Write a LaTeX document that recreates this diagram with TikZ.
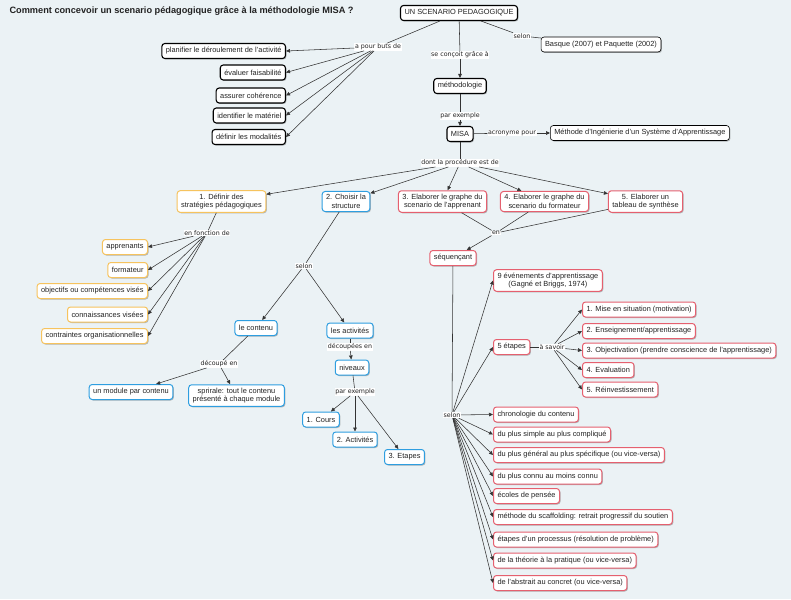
\documentclass[tikz,border=0pt]{standalone}
\usepackage{fontspec}
\setmainfont{Liberation Sans}
\newfontfamily\lblfont{DejaVu Sans}
\usetikzlibrary{arrows.meta,shadows}
\definecolor{bg}{HTML}{EBF2F5}
\definecolor{cOr}{HTML}{F6C35E}
\definecolor{cBl}{HTML}{2E9EE0}
\definecolor{cRd}{HTML}{E5606F}
\definecolor{ink}{HTML}{222222}
\definecolor{lncol}{HTML}{333333}
\begin{document}
\begin{tikzpicture}[x=1pt,y=1pt,
 box/.style={draw, rounded corners=3pt, fill=white, font=\fontsize{7.4}{8.6}\selectfont, text=ink, inner xsep=4pt, inner ysep=3pt, minimum height=15pt, align=center, drop shadow={shadow xshift=1pt,shadow yshift=-1pt,opacity=0.25,fill=black}},
 bk/.style={box, draw=black, line width=1.1pt},
 bt/.style={box, draw=black, line width=0.6pt},
 cor/.style={box, draw=cOr, line width=1pt},
 cbl/.style={box, draw=cBl, line width=1pt},
 crd/.style={box, draw=cRd, line width=1pt},
 lbl/.style={fill=white, inner sep=0.6pt, font=\lblfont\fontsize{6.3}{7}\selectfont, text=ink},
 lnk/.style={draw=lncol, line width=0.55pt},
 arw/.style={lnk, -{Triangle[length=4pt,width=3.6pt]}},
]
\fill[bg] (0,0) rectangle (791,-599);
\useasboundingbox (0,0) rectangle (791,-599);

\node[anchor=west, font=\bfseries\fontsize{9.2}{11}\selectfont, text=ink] (title) at (6,-11) {Comment concevoir un scenario pédagogique grâce à la méthodologie MISA ?};

% top
\node[bk] (usp) at (459,-13) {UN SCENARIO PEDAGOGIQUE};
\node[lbl] (pour) at (378,-47) {a pour buts de};
\node[bk, anchor=east] (g1) at (286,-51) {planifier le déroulement de l'activité};
\node[bk, anchor=east] (g2) at (286,-72.5) {évaluer faisabilité};
\node[bk, anchor=east] (g3) at (286,-95.5) {assurer cohérence};
\node[bk, anchor=east] (g4) at (286,-115.5) {identifier le matériel};
\node[bk, anchor=east] (g5) at (286,-137) {définir les modalités};
\node[lbl] (selonA) at (522,-36) {selon};
\node[bt] (basque) at (601,-44.5) {Basque (2007) et Paquette (2002)};
\node[lbl] (concoit) at (460,-55) {se conçoit grâce à};
\node[bk] (meth) at (460,-86) {méthodologie};
\node[lbl] (parexA) at (460,-116) {par exemple};
\node[bk] (misa) at (460,-134) {MISA};
\node[lbl] (acro) at (512,-133) {acronyme pour};
\node[bt, anchor=west] (methode) at (550,-133) {Méthode d'Ingénierie d'un Système d'Apprentissage};
\node[lbl] (dont) at (460,-163) {dont la procédure est de};

% steps
\node[cor] (s1) at (221.5,-201.5) {1. Définir des\\stratégies pédagogiques};
\node[cbl] (s2) at (346,-201.5) {2. Choisir la\\structure};
\node[crd] (s3) at (442.5,-201.5) {3. Elaborer le graphe du\\scenario de l'apprenant};
\node[crd] (s4) at (544.5,-201.5) {4. Elaborer le graphe du\\scenario du formateur};
\node[crd] (s5) at (645.5,-201.5) {5. Elaborer un\\tableau de synthèse};

% step 1
\node[lbl] (fonction) at (207,-233) {en fonction de};
\node[cor, anchor=east] (o1) at (148,-247) {apprenants};
\node[cor, anchor=east] (o2) at (148,-270) {formateur};
\node[cor, anchor=east] (o3) at (148,-291) {objectifs ou compétences visés};
\node[cor, anchor=east] (o4) at (148,-314.5) {connaissances visées};
\node[cor, anchor=east] (o5) at (148,-336) {contraintes organisationnelles};

% step 2
\node[lbl] (selonB) at (304,-266) {selon};
\node[cbl] (contenu) at (256,-328) {le contenu};
\node[cbl] (activites) at (350,-330.5) {les activités};
\node[lbl] (decoupees) at (350,-347) {découpées en};
\node[cbl] (niveaux) at (352,-367.5) {niveaux};
\node[lbl] (parexB) at (355,-392) {par exemple};
\node[cbl] (cours) at (321,-419.5) {1. Cours};
\node[cbl] (act2) at (355,-439.5) {2. Activités};
\node[cbl] (etapes3) at (404.5,-457) {3. Etapes};
\node[lbl] (decoupe) at (219,-364) {découpé en};
\node[cbl] (module) at (131,-392) {un module par contenu};
\node[cbl] (spirale) at (236.5,-395.5) {sprirale: tout le contenu\\présenté à chaque module};

% steps 3-5
\node[lbl] (en) at (496,-233) {en};
\node[crd] (seq) at (453,-258) {séquençant};
\node[crd, anchor=west] (ev9) at (493,-280.5) {9 événements d'apprentissage\\(Gagné et Briggs, 1974)};
\node[crd, anchor=west] (etapes5) at (493,-347) {5 étapes};
\node[lbl] (savoir) at (552,-347) {à savoir};
\node[crd, anchor=west] (e1) at (582,-309.5) {1. Mise en situation (motivation)};
\node[crd, anchor=west] (e2) at (582,-331) {2. Enseignement/apprentissage};
\node[crd, anchor=west] (e3) at (582,-350.5) {3. Objectivation (prendre conscience de l'apprentissage)};
\node[crd, anchor=west] (e4) at (582,-370) {4. Evaluation};
\node[crd, anchor=west] (e5) at (582,-389.5) {5. Réinvestissement};
\node[lbl] (selonC) at (452,-415) {selon};
\node[crd, anchor=west] (r1) at (493,-414.5) {chronologie du contenu};
\node[crd, anchor=west] (r2) at (493,-434.5) {du plus simple au plus compliqué};
\node[crd, anchor=west] (r3) at (493,-455) {du plus général au plus spécifique (ou vice-versa)};
\node[crd, anchor=west] (r4) at (493,-476.5) {du plus connu au moins connu};
\node[crd, anchor=west] (r5) at (493,-496) {écoles de pensée};
\node[crd, anchor=west] (r6) at (493,-517) {méthode du scaffolding: retrait progressif du soutien};
\node[crd, anchor=west] (r7) at (493,-539.5) {étapes d'un processus (résolution de problème)};
\node[crd, anchor=west] (r8) at (493,-560.5) {de la théorie à la pratique (ou vice-versa)};
\node[crd, anchor=west] (r9) at (493,-583) {de l'abstrait au concret (ou vice-versa)};

% connectors
\draw[lnk] (usp) -- (pour);
\foreach \t in {g1,g2,g3,g4,g5} \draw[arw] (pour) -- (\t.east);
\draw[lnk] (usp) -- (selonA);
\draw[lnk] (selonA) -- (basque);
\draw[lnk] (usp) -- (concoit);
\draw[arw] (concoit) -- (meth);
\draw[lnk] (meth) -- (parexA);
\draw[arw] (parexA) -- (misa);
\draw[lnk] (misa) -- (acro);
\draw[arw] (acro) -- (methode);
\draw[lnk] (misa) -- (dont);
\foreach \t in {s1,s2,s3,s4,s5} \draw[arw] (dont) -- (\t);

\draw[lnk] (s1) -- (fonction);
\foreach \t in {o1,o2,o3,o4,o5} \draw[arw] (fonction) -- (\t.east);

\draw[lnk] (s2) -- (selonB);
\draw[arw] (selonB) -- (contenu);
\draw[arw] (selonB) -- (activites);
\draw[lnk] (activites) -- (decoupees);
\draw[arw] (decoupees) -- (niveaux);
\draw[lnk] (niveaux) -- (parexB);
\foreach \t in {cours,act2,etapes3} \draw[arw] (parexB) -- (\t);
\draw[lnk] (contenu) -- (decoupe);
\draw[arw] (decoupe) -- (module);
\draw[arw] (decoupe) -- (spirale);

\foreach \s in {s3,s4,s5} \draw[lnk] (\s) -- (en);
\draw[arw] (en) -- (seq);
\draw[lnk] (seq) -- (selonC);
\foreach \t in {ev9,etapes5,r1,r2,r3,r4,r5,r6,r7,r8,r9} \draw[arw] (selonC) -- (\t.west);
\draw[lnk] (etapes5) -- (savoir);
\foreach \t in {e1,e2,e3,e4,e5} \draw[arw] (savoir) -- (\t.west);
\end{tikzpicture}
\end{document}
